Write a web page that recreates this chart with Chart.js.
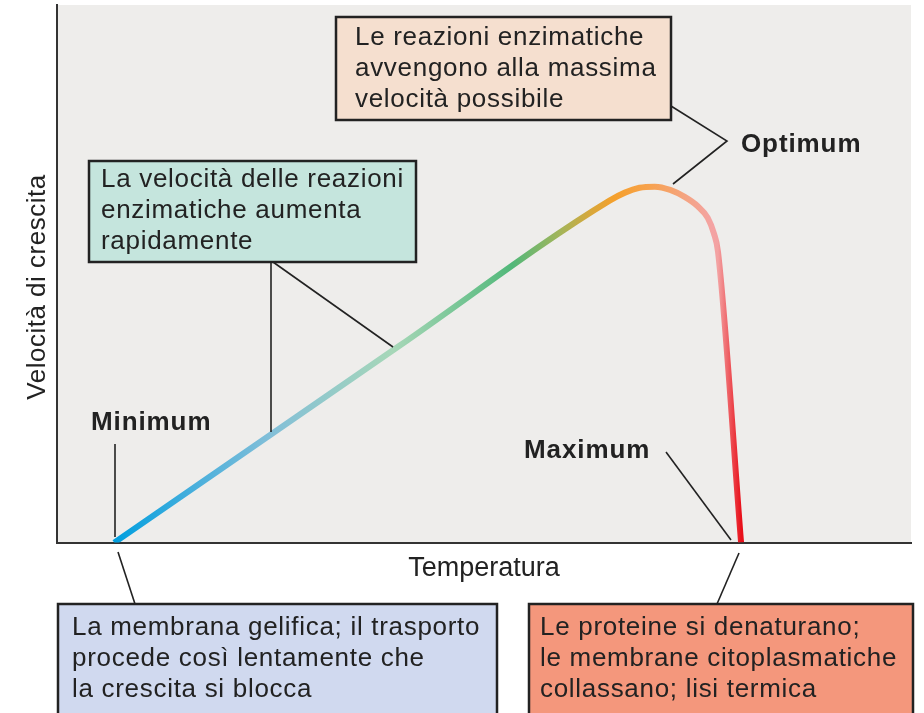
<!DOCTYPE html>
<html lang="it">
<head>
<meta charset="utf-8">
<title>Velocità di crescita e temperatura</title>
<script src="https://cdn.jsdelivr.net/npm/chart.js@4.4.1/dist/chart.umd.min.js"></script>
<style>
  html, body { margin: 0; padding: 0; background: #fff; }
  canvas { display: block; }
</style>
</head>
<body>
<canvas id="myChart" width="924" height="713"></canvas>
<script>
// curve (arbitrary units, 0-100 on both axes)
var temperatura = [6.7, 40.1, 64.7, 66.5, 68.2, 70.0, 71.8, 73.5, 75.0, 76.2, 76.9, 77.4, 80.1];
var velocita    = [0, 36.6, 63.6, 65.1, 66.0, 66.2, 65.6, 64.3, 62.6, 60.4, 57.6, 54.1, 0];

// colour of the curve, keyed by temperature
var gradTemp   = [6.7, 16.6, 25.0, 39.3, 53.3, 58.9, 62.4, 65.3, 69.4, 74.1, 76.7, 77.4, 80.1];
var gradColori = ['#009fdf', '#4cb0dc', '#82bfd8', '#a7d7b8', '#52b87a', '#a3b55a', '#d7a83c',
                  '#f5a02c', '#f7a24e', '#f4a488', '#f4a3a3', '#f3a2a2', '#e8101a'];

var FONT = '"Liberation Sans", Arial, Helvetica, sans-serif';
var INK = '#222';

// annotation boxes (canvas pixels)
var riquadri = [
  { x: 336, y: 17, w: 335, h: 103, fill: '#f5dfcf', tx: 355, ty: 45,
    righe: ['Le reazioni enzimatiche', 'avvengono alla massima', 'velocità possibile'] },
  { x: 89, y: 161, w: 327, h: 101, fill: '#c5e5dd', tx: 101, ty: 187,
    righe: ['La velocità delle reazioni', 'enzimatiche aumenta', 'rapidamente'] },
  { x: 58, y: 604, w: 439, h: 120, fill: '#d0d9ef', tx: 72, ty: 635,
    righe: ['La membrana gelifica; il trasporto', 'procede così lentamente che', 'la crescita si blocca'] },
  { x: 529, y: 604, w: 384, h: 120, fill: '#f4977c', tx: 540, ty: 635,
    righe: ['Le proteine si denaturano;', 'le membrane citoplasmatiche', 'collassano; lisi termica'] }
];
var etichette = [
  { testo: 'Optimum', x: 741, y: 152 },
  { testo: 'Minimum', x: 91, y: 430 },
  { testo: 'Maximum', x: 524, y: 458 }
];
var linee = [
  [[671, 106], [727, 141], [673, 184]],
  [[271, 262], [271, 432]],
  [[273, 262], [393, 347]],
  [[115, 444], [115, 537]],
  [[118, 552], [135, 604]],
  [[666, 452], [731, 540]],
  [[739, 553], [717, 604]]
];

function gradiente(context) {
  var chart = context.chart;
  if (!chart.chartArea) return gradColori[0];
  var xs = chart.scales.x;
  var t0 = gradTemp[0], t1 = gradTemp[gradTemp.length - 1];
  var g = chart.ctx.createLinearGradient(xs.getPixelForValue(t0), 0, xs.getPixelForValue(t1), 0);
  gradTemp.forEach(function (t, i) {
    g.addColorStop((t - t0) / (t1 - t0), gradColori[i]);
  });
  return g;
}

var sfondo = {
  id: 'sfondo',
  beforeDraw: function (chart) {
    var c = chart.ctx, a = chart.chartArea;
    c.save();
    c.fillStyle = '#eeedeb';
    c.fillRect(a.left, a.top, a.right - a.left, a.bottom - a.top);
    c.restore();
  }
};

var annotazioni = {
  id: 'annotazioni',
  afterDraw: function (chart) {
    var c = chart.ctx;
    c.save();
    // y axis title
    c.fillStyle = INK;
    c.font = '26px ' + FONT;
    c.letterSpacing = '0.5px';
    c.translate(45, 287);
    c.rotate(-Math.PI / 2);
    c.textAlign = 'center';
    c.textBaseline = 'alphabetic';
    c.fillText('Velocità di crescita', 0, 0);
    c.setTransform(1, 0, 0, 1, 0, 0);

    c.strokeStyle = INK;
    c.lineWidth = 1.6;
    linee.forEach(function (l) {
      c.beginPath();
      c.moveTo(l[0][0], l[0][1]);
      for (var i = 1; i < l.length; i++) c.lineTo(l[i][0], l[i][1]);
      c.stroke();
    });

    c.textAlign = 'left';
    riquadri.forEach(function (r) {
      c.fillStyle = r.fill;
      c.fillRect(r.x, r.y, r.w, r.h);
      c.lineWidth = 2.5;
      c.strokeStyle = INK;
      c.strokeRect(r.x, r.y, r.w, r.h);
      c.fillStyle = INK;
      c.font = '26px ' + FONT;
      c.letterSpacing = '0.7px';
      r.righe.forEach(function (t, i) {
        c.fillText(t, r.tx, r.ty + i * 31);
      });
    });

    c.font = 'bold 26px ' + FONT;
    c.letterSpacing = '0.9px';
    etichette.forEach(function (e) {
      c.fillText(e.testo, e.x, e.y);
    });
    c.restore();
  }
};

const ctx = document.getElementById('myChart');
const myChart = new Chart(ctx, {
  type: 'line',
  data: {
    labels: temperatura,
    datasets: [{
      label: 'Velocità di crescita',
      data: temperatura.map(function (t, i) { return { x: t, y: velocita[i] }; }),
      borderColor: gradiente,
      borderWidth: 6,
      borderCapStyle: 'butt',
      cubicInterpolationMode: 'monotone',
      pointRadius: 0,
      fill: false
    }]
  },
  options: {
    responsive: false,
    animation: false,
    layout: { padding: { left: 57, right: 13, top: 5, bottom: 128 } },
    plugins: {
      legend: { display: false },
      tooltip: { enabled: false }
    },
    scales: {
      x: {
        type: 'linear',
        min: 0,
        max: 100,
        grid: { display: false, drawTicks: false },
        ticks: { display: false },
        border: { display: true, color: '#333', width: 2 },
        title: {
          display: true,
          text: 'Temperatura',
          color: INK,
          font: { family: FONT, size: 27 },
          padding: { top: 10, bottom: 0 }
        }
      },
      y: {
        min: 0,
        max: 100,
        grid: { display: false, drawTicks: false },
        ticks: { display: false },
        border: { display: true, color: '#333', width: 2 }
      }
    }
  },
  plugins: [sfondo, annotazioni]
});
</script>
</body>
</html>
